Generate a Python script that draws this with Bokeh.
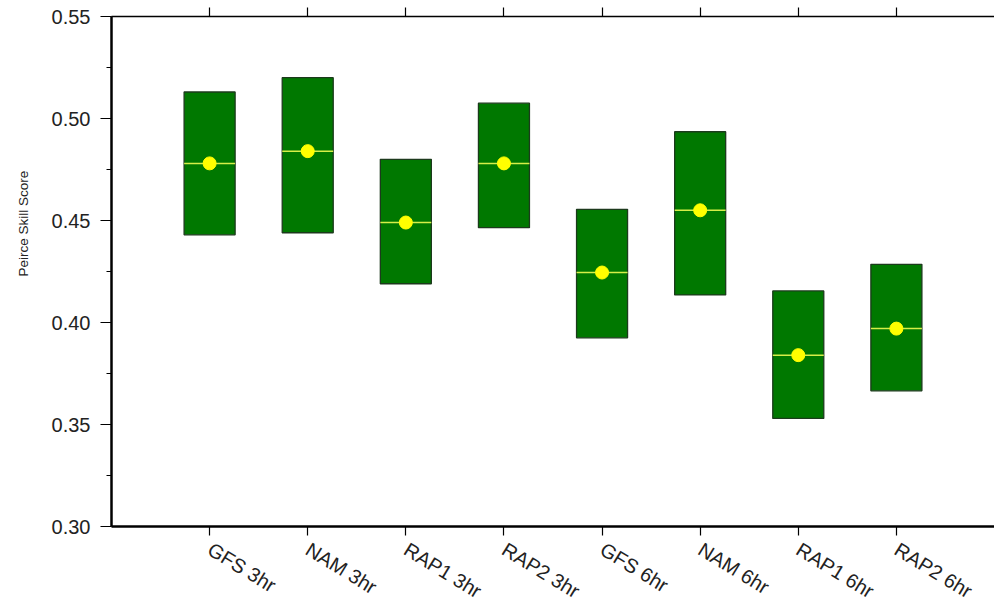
import numpy as np
from bokeh.plotting import figure
from bokeh.models import (ColumnDataSource, FixedTicker, SingleIntervalTicker, LinearAxis,
                          Range1d, Title, CustomJSTickFormatter, NumeralTickFormatter)
from bokeh.embed import file_html
from bokeh.resources import INLINE

categories = ["GFS 3hr", "NAM 3hr", "RAP1 3hr", "RAP2 3hr", "GFS 6hr", "NAM 6hr", "RAP1 6hr", "RAP2 6hr"]
upper = [0.513, 0.520, 0.480, 0.5075, 0.4555, 0.4935, 0.4155, 0.4285]
lower = [0.443, 0.444, 0.419, 0.4465, 0.3925, 0.4135, 0.3530, 0.3665]
mean = [0.478, 0.484, 0.449, 0.478, 0.4245, 0.455, 0.384, 0.397]

xpos = list(range(1, len(categories) + 1))
box_w = 0.52

src = ColumnDataSource(dict(
    x=xpos, top=upper, bottom=lower, mean=mean,
    x0=[x - box_w / 2 for x in xpos], x1=[x + box_w / 2 for x in xpos],
))

p = figure(width=994, height=614, output_backend="svg", toolbar_location=None,
           x_range=Range1d(0, 9), y_range=Range1d(0.30, 0.55),
           min_border_left=109, min_border_right=0, min_border_top=16, min_border_bottom=86,
           x_axis_location="below", y_axis_location="left")
p.outline_line_color = None
p.xgrid.visible = False
p.ygrid.visible = False
p.background_fill_color = "white"
p.border_fill_color = "white"

font = "Liberation Sans"

p.vbar(x="x", width=box_w, top="top", bottom="bottom", source=src,
       fill_color="#007800", line_color="#1c3a1c", line_width=1.3)
p.segment(x0="x0", x1="x1", y0="mean", y1="mean", source=src,
          line_color="#d6ee48", line_width=1.5)
p.scatter(x="x", y="mean", source=src, size=13, marker="circle",
          fill_color="#ffff00", line_color="#ffff00")

# y axis
ya = p.yaxis[0]
ya.ticker = SingleIntervalTicker(interval=0.05, num_minor_ticks=2)
ya.formatter = NumeralTickFormatter(format="0.00")
ya.axis_line_width = 2.5
ya.axis_line_color = "black"
ya.major_tick_line_color = "black"
ya.major_tick_line_width = 1.2
ya.major_tick_out = 11
ya.major_tick_in = 0
ya.minor_tick_out = 5
ya.minor_tick_in = 0
ya.minor_tick_line_color = "black"
ya.major_label_text_font = font
ya.major_label_text_font_size = "20px"
ya.major_label_text_color = "#222222"
ya.major_label_standoff = 10

# x axis
xa = p.xaxis[0]
xa.ticker = FixedTicker(ticks=xpos)
xa.major_label_overrides = {x: c for x, c in zip(xpos, categories)}
xa.axis_line_width = 2.5
xa.axis_line_color = "black"
xa.major_tick_line_color = "black"
xa.major_tick_line_width = 1.2
xa.major_tick_out = 9
xa.major_tick_in = 0
xa.minor_tick_line_color = None
xa.major_label_text_font = font
xa.major_label_text_font_size = "20px"
xa.major_label_text_color = "#222222"
xa.major_label_orientation = -0.55
xa.major_label_standoff = 12

# top axis (ticks only)
ta = LinearAxis(ticker=FixedTicker(ticks=xpos),
                formatter=CustomJSTickFormatter(code="return ''"))
ta.axis_line_width = 1.5
ta.axis_line_color = "black"
ta.major_tick_line_color = "black"
ta.major_tick_line_width = 1.2
ta.major_tick_out = 9
ta.major_tick_in = 0
ta.minor_tick_line_color = None
ta.major_label_text_font_size = "0px"
ta.major_label_standoff = 0
p.add_layout(ta, "above")

# y axis title
p.add_layout(Title(text="Peirce Skill Score", align="left", offset=250, standoff=31,
                   vertical_align="top",
                   text_font=font, text_font_size="13.5px", text_font_style="normal",
                   text_color="#222222"), "left")

open("out.html", "w").write(file_html(p, INLINE))
